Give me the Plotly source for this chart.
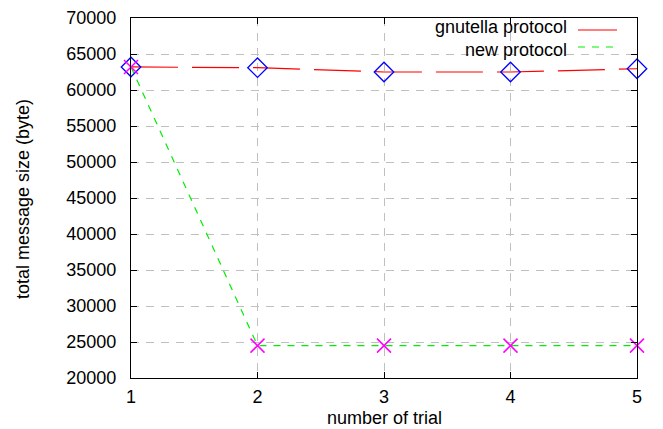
import plotly.graph_objects as go

trials = [1, 2, 3, 4, 5]
gnutella = [63200, 63100, 62500, 62500, 62950]
new_protocol = [63200, 24500, 24500, 24500, 24500]
series_names = ["gnutella protocol", "new protocol"]
x_title = "number of trial"
y_title = "total message size (byte)"

FONT = "Liberation Sans, Arial, sans-serif"
FS = 18
L, R, T, B = 131, 637, 18, 378  # plot-area edges in pixels


def px_x(p):
    return (p - L) / (R - L)


def px_y(p):
    return 1 - (p - T) / (B - T)


fig = go.Figure()
fig.add_trace(go.Scatter(
    x=trials, y=gnutella, mode="lines+markers", name=series_names[0],
    line=dict(color="#ff0000", width=1.2, dash="47px,14px"),
    marker=dict(symbol="diamond-open", size=15, color="#0000ff", line=dict(width=1.3, color="#0000ff")),
    cliponaxis=False, showlegend=False))
fig.add_trace(go.Scatter(
    x=trials, y=new_protocol, mode="lines+markers", name=series_names[1],
    line=dict(color="#00ee00", width=1.2, dash="7px,7px"),
    marker=dict(symbol="x-thin-open", size=14, color="#ff00ff", line=dict(width=1.5, color="#ff00ff")),
    cliponaxis=False, showlegend=False))

# gnuplot-style legend: text right-aligned, sample on the right
legend_rows = [(series_names[0], "#ff0000", "solid", 27, 30), (series_names[1], "#00ee00", "7px,7px", 50, 47)]
for name, col, dash, ypx, lpx in legend_rows:
    fig.add_annotation(x=px_x(568), xref="paper", y=px_y(ypx), yref="paper", text=name, showarrow=False,
                       xanchor="right", yanchor="middle", borderpad=0,
                       font=dict(family=FONT, size=FS, color="black"))
    fig.add_shape(type="line", xref="paper", yref="paper",
                  x0=px_x(578), x1=px_x(617), y0=px_y(lpx), y1=px_y(lpx),
                  line=dict(color=col, width=1.2, dash=dash))

# axis titles
fig.add_annotation(x=0.5, xref="paper", y=px_y(429), yref="paper", text=x_title, showarrow=False,
                   xanchor="center", yanchor="bottom", borderpad=0,
                   font=dict(family=FONT, size=FS, color="black"))
fig.add_annotation(x=px_x(23), xref="paper", y=px_y(199), yref="paper", text=y_title, showarrow=False,
                   xanchor="center", yanchor="middle", textangle=-90, borderpad=0,
                   font=dict(family=FONT, size=FS, color="black"))

axis_common = dict(
    showline=True, linecolor="black", linewidth=1.3, mirror="allticks",
    ticks="inside", ticklen=6, tickcolor="black",
    showgrid=True, gridcolor="#c0c0c0", griddash="8px,7px", gridwidth=1,
    zeroline=False, tickfont=dict(family=FONT, size=FS, color="black"),
    automargin=False,
)
fig.update_xaxes(range=[1, 5], tickvals=trials, ticktext=[str(t) for t in trials],
                 ticklabelstandoff=2, **axis_common)
fig.update_yaxes(range=[20000, 70000], tickvals=list(range(20000, 70001, 5000)),
                 tickformat="d", ticklabelstandoff=10, **axis_common)
fig.update_layout(
    width=663, height=429, margin=dict(l=L, r=663 - R, t=T, b=429 - B),
    plot_bgcolor="white", paper_bgcolor="white", font=dict(family=FONT),
)
fig.write_html("out.html")
